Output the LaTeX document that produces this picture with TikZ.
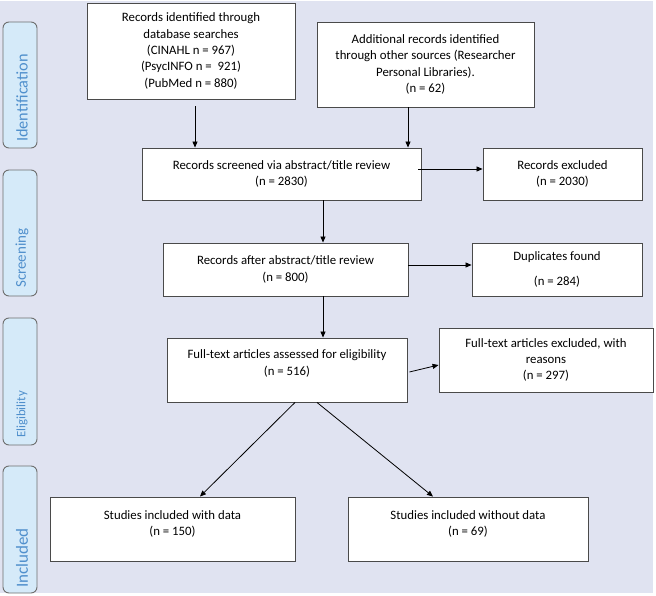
\documentclass[tikz,border=0pt]{standalone}
\usepackage{fontspec}
\setmainfont{Carlito}
\usetikzlibrary{arrows.meta}
\definecolor{bg}{HTML}{E0E3F1}
\definecolor{sidefill}{HTML}{D5EAF9}
\definecolor{sideline}{HTML}{6E6E6E}
\definecolor{sidetext}{HTML}{4F8FCC}
\definecolor{boxline}{HTML}{4A4A4A}
\begin{document}
\begin{tikzpicture}[x=1pt,y=-1pt,
  box/.style={draw=boxline, fill=white, line width=0.9pt, align=center,
    font=\fontsize{12.8}{16.3}\selectfont, inner sep=0pt},
  side/.style={draw=sideline, fill=sidefill, rounded corners=6pt, line width=0.9pt},
  sidelabel/.style={rotate=90, anchor=west, text=sidetext, inner sep=0pt,
    font=\fontsize{15}{18}\selectfont},
  arr/.style={-{Triangle[length=6pt,width=5pt]}, line width=0.8pt, black}]
\useasboundingbox (0,0) rectangle (656,596);
\fill[bg] (0,1) rectangle (653,593);

% side labels
\draw[side] (3,22) rectangle (37,148);
\draw[side] (3,170) rectangle (37,296);
\draw[side] (3,318) rectangle (37,445);
\draw[side] (3,466) rectangle (37,593);
\node[sidelabel, font=\fontsize{16.3}{18}\selectfont] (sid) at (22,142) {Identification};
\node[sidelabel] (sscr) at (22,288) {Screening};
\node[sidelabel, font=\fontsize{12.8}{15}\selectfont] (selig) at (22,438) {Eligibility};
\node[sidelabel, font=\fontsize{17}{18}\selectfont] (sinc) at (22,588) {Included};

% boxes
\node[box, minimum width=208pt, minimum height=96pt] (b1) at (191,51)
  {Records identified through\\database searches\\(CINAHL n = 967)\\(PsycINFO n = \ 921)\\(PubMed n = 880)};
\node[box, minimum width=217pt, minimum height=85pt] (b2) at (425.5,64.5)
  {Additional records identified\\through other sources (Researcher\\Personal Libraries).\\(n = 62)};
\node[box, minimum width=279pt, minimum height=52pt] (b3) at (281.5,174)
  {Records screened via abstract/title review\\(n = 2830)};
\node[box, minimum width=159pt, minimum height=52pt] (b4) at (562.5,174)
  {Records excluded\\(n = 2030)};
\node[box, minimum width=245pt, minimum height=53pt] (b5) at (285.5,269.5)
  {Records after abstract/title review\\(n = 800)};
\node[box, minimum width=170pt, minimum height=53pt] (b6) at (557,269.5)
  {Duplicates found\\[9pt](n = 284)};
\node[box, minimum width=240pt, minimum height=64pt, text depth=15pt] (b7) at (287,370)
  {Full-text articles assessed for eligibility\\(n = 516)};
\node[box, minimum width=214pt, minimum height=64pt] (b8) at (546,360)
  {Full-text articles excluded, with\\reasons\\(n = 297)};
\node[box, minimum width=245pt, minimum height=64pt, text depth=12pt] (b9) at (172.5,529)
  {Studies included with data\\(n = 150)};
\node[box, minimum width=240pt, minimum height=64pt, text depth=12pt] (b10) at (468,529)
  {Studies included without data\\(n = 69)};

% arrows
\draw[arr] ([xshift=4pt,yshift=-7pt]b1.south) -- ([xshift=4pt]b1.south |- b3.north);
\draw[arr] ([xshift=-17.5pt]b2.south) -- ([xshift=-17.5pt]b2.south |- b3.north);
\draw[arr] ([xshift=-3pt,yshift=5pt]b3.east) -- ([yshift=5pt]b4.west);
\draw[arr] ([xshift=41.5pt]b3.south) -- ([xshift=41.5pt]b3.south |- b5.north);
\draw[arr] ([yshift=4.5pt]b5.east) -- ([yshift=4.5pt]b5.east -| b6.west);
\draw[arr] ([xshift=37.5pt]b5.south) -- ([xshift=37.5pt]b5.south |- b7.north);
\draw[arr] ([xshift=2pt,yshift=-2pt]b7.east) -- ([yshift=-5pt]b8.west);
\draw[arr] ([xshift=8pt]b7.south) -- ([xshift=27.5pt]b9.north);
\draw[arr] ([xshift=30pt]b7.south) -- ([xshift=-35pt]b10.north);
\end{tikzpicture}
\end{document}
